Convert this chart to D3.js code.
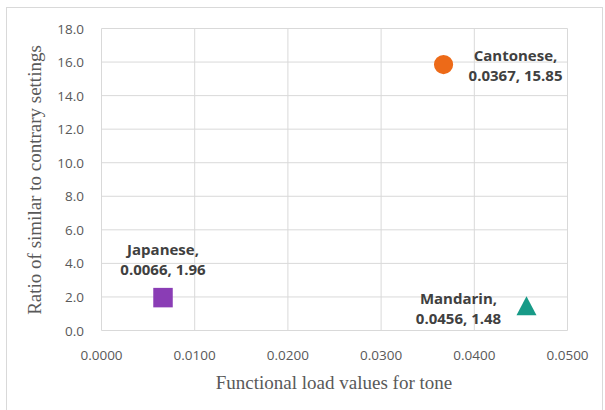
<!DOCTYPE html>
<html><head><meta charset="utf-8">
<script src="https://cdn.jsdelivr.net/npm/d3@7"></script>
<style>body{margin:0;background:#fff}svg{display:block}</style>
</head><body>
<svg id="c" width="605" height="410"></svg>
<script>
const languages = ["Cantonese", "Japanese", "Mandarin"];
const loadValues = [0.0367, 0.0066, 0.0456];
const ratioValues = [15.85, 1.96, 1.48];
const colors = ["#ED6A18", "#8A3DB5", "#179A87"];
const shapes = ["circle", "square", "triangle"];
const xTicks = [0, 0.01, 0.02, 0.03, 0.04, 0.05];
const yTicks = [0, 2, 4, 6, 8, 10, 12, 14, 16, 18];

const svg = d3.select("#c");
svg.append("rect").attr("x",6.5).attr("y",7.5).attr("width",596).attr("height",410)
  .attr("fill","#fff").attr("stroke","#d9d9d9");

const x = d3.scaleLinear().domain([0,0.05]).range([101.5,567.5]);
const y = d3.scaleLinear().domain([0,18]).range([330.5,28.5]);
const tickFont = "'Open Sans', sans-serif";

const g = svg.append("g");
g.selectAll(".vg").data(xTicks).join("line")
  .attr("x1",d=>x(d)).attr("x2",d=>x(d)).attr("y1",y(18)).attr("y2",y(0))
  .attr("stroke","#d9d9d9");
g.selectAll(".hg").data(yTicks).join("line")
  .attr("x1",x(0)).attr("x2",x(0.05)).attr("y1",d=>y(d)).attr("y2",d=>y(d))
  .attr("stroke","#d9d9d9");

g.selectAll(".xt").data(xTicks).join("text")
  .attr("x",d=>x(d)).attr("y",360).attr("text-anchor","middle")
  .attr("font-family",tickFont).attr("font-size",13.5).attr("fill","#595959")
  .text(d=>d3.format(".4f")(d));
g.selectAll(".yt").data(yTicks).join("text")
  .attr("x",84).attr("y",d=>y(d)+5).attr("text-anchor","end")
  .attr("font-family",tickFont).attr("font-size",13.5).attr("fill","#595959")
  .text(d=>d3.format(".1f")(d));

svg.append("text").attr("x",334).attr("y",389).attr("text-anchor","middle")
  .attr("font-family","'Liberation Serif', serif").attr("font-size",19).attr("fill","#595959")
  .text("Functional load values for tone");
svg.append("text").attr("transform","translate(41,180) rotate(-90)").attr("text-anchor","middle")
  .attr("font-family","'Liberation Serif', serif").attr("font-size",19).attr("fill","#595959")
  .text("Ratio of similar to contrary settings");

const markerPath = {
  circle: d3.symbol().type(d3.symbolCircle).size(290)(),
  square: d3.symbol().type(d3.symbolSquare).size(380)(),
  triangle: "M0,-9.5L10,9.5L-10,9.5Z"
};
languages.forEach((l,i)=>{
  const cx = x(loadValues[i]), cy = y(ratioValues[i]);
  svg.append("path").attr("d", markerPath[shapes[i]])
    .attr("transform",`translate(${cx},${cy})`).attr("fill",colors[i]);
});

// labels: offset relative to point
const labelOffsets = [[72,-9],[0,-48],[-68,-7]];
languages.forEach((l,i)=>{
  const cx = x(loadValues[i]) + labelOffsets[i][0], cy = y(ratioValues[i]) + labelOffsets[i][1];
  const t = svg.append("text").attr("text-anchor","middle")
    .attr("font-family",tickFont).attr("font-size",15).attr("font-weight","bold").attr("fill","#404040");
  t.append("tspan").attr("x",cx).attr("y",cy+5).text(l + ",");
  t.append("tspan").attr("x",cx).attr("y",cy+25).text(loadValues[i].toFixed(4) + ", " + ratioValues[i]);
});
</script>
</body></html>
